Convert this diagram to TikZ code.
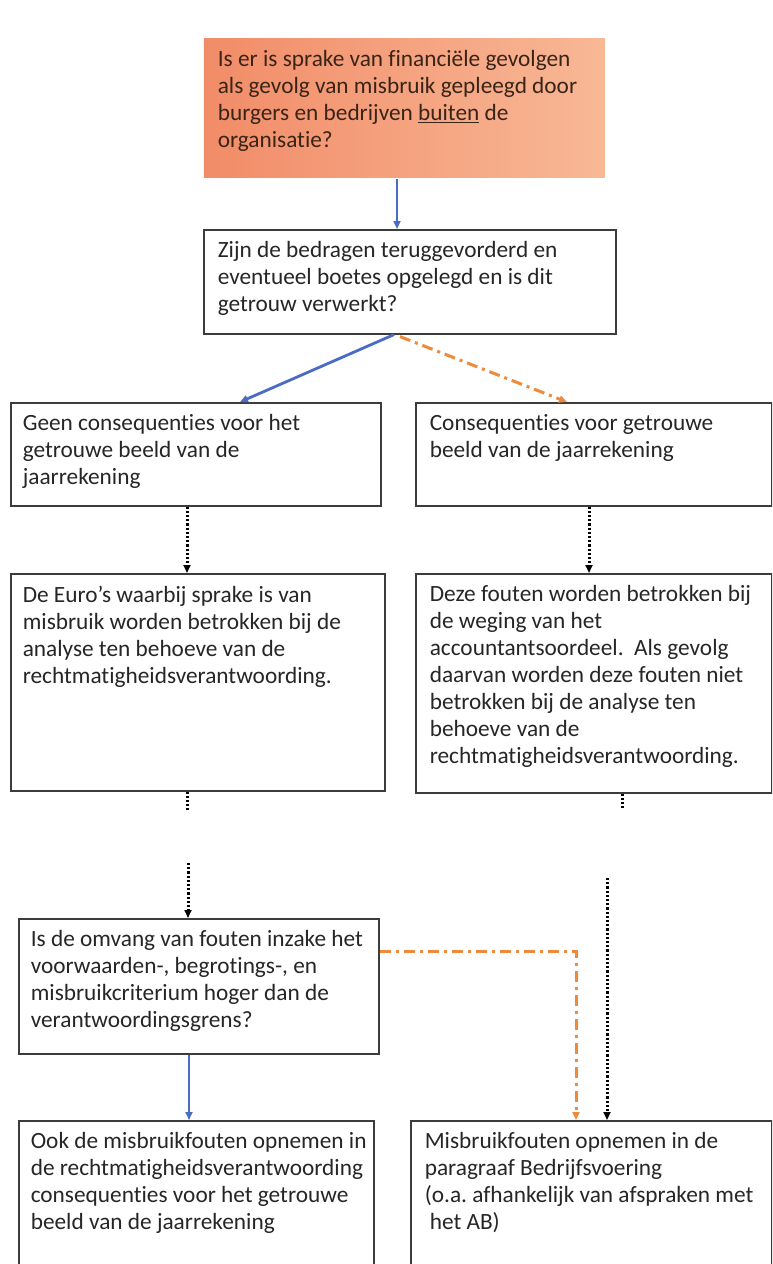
\documentclass[tikz,border=0pt]{standalone}
\usepackage{fontspec}
\setmainfont{Carlito}[Ligatures={NoCommon}]
\usetikzlibrary{arrows.meta,calc}
\frenchspacing
\definecolor{boxgray}{HTML}{3C3C3C}
\definecolor{txt}{HTML}{262626}
\definecolor{toptxt}{HTML}{3A2418}
\definecolor{salmonL}{HTML}{F28C68}
\definecolor{salmonR}{HTML}{F8B896}
\definecolor{arrblue}{HTML}{4A6CC4}
\definecolor{arrorange}{HTML}{EE8A3C}
\newcommand\bt[3]{\parbox[c][#2][t]{#1}{\rightskip=-60pt plus 1fil\relax\parindent=0pt\vspace*{12pt}#3}}
\begin{document}
\begin{tikzpicture}[x=1pt,y=-1pt,
  box/.style={draw=boxgray, line width=1.6pt, inner ysep=0pt, inner xsep=13pt, anchor=north west,
    font=\fontsize{23.3}{27}\selectfont, text=txt},
  bluearrow/.style={draw=arrblue, line width=2.8pt, -{Triangle[length=8pt,width=7pt]}},
  orangearrow/.style={draw=arrorange, line width=3pt, dash pattern={on 11pt off 5pt on 3pt off 5pt}, -{Triangle[length=8pt,width=7pt]}},
  dotline/.style={draw=black, line width=3pt, dash pattern={on 2.2pt off 2pt}},
  dotarrow/.style={dotline, -{Triangle[length=8pt,width=7pt]}}]
\useasboundingbox (0,0) rectangle (772,1264);
\clip (0,0) rectangle (772,1264);
\fill[white] (0,0) rectangle (772,1264);

% top box
\node[box, draw=none, left color=salmonL, right color=salmonR, text=toptxt, inner xsep=14pt] (q1) at (203,38)
  {\bt{373pt}{139pt}{Is er is sprake van financiële gevolgen\\als gevolg van misbruik gepleegd door\\burgers en bedrijven \underline{buiten} de\\organisatie?}};

\node[box, inner xsep=14pt] (q2) at (203,229)
  {\bt{384pt}{104pt}{Zijn de bedragen teruggevorderd en\\eventueel boetes opgelegd en is dit\\getrouw verwerkt?}};

\node[box, inner xsep=12pt] (a1) at (10,402)
  {\bt{346pt}{103pt}{Geen consequenties voor het\\getrouwe beeld van de\\jaarrekening}};

\node[box, inner xsep=14pt] (b1) at (415,402)
  {\bt{328pt}{103pt}{Consequenties voor getrouwe\\beeld van de jaarrekening}};

\node[box, inner xsep=12pt] (a2) at (10,573)
  {\bt{350pt}{217pt}{De Euro’s waarbij sprake is van\\misbruik worden betrokken bij de\\analyse ten behoeve van de\\rechtmatigheidsverantwoording.}};

\node[box, inner xsep=14pt] (b2) at (415,573)
  {\bt{328pt}{219pt}{Deze fouten worden betrokken bij\\de weging van het\\accountantsoordeel.\ \ Als gevolg\\daarvan worden deze fouten niet\\betrokken bij de analyse ten\\behoeve van de\\rechtmatigheidsverantwoording.}};

\node[box, inner xsep=12pt] (q3) at (18,918)
  {\bt{336pt}{135pt}{Is de omvang van fouten inzake het\\voorwaarden-, begrotings-, en\\misbruikcriterium hoger dan de\\verantwoordingsgrens?}};

\node[box, inner xsep=12pt] (a3) at (18,1120)
  {\bt{331pt}{170pt}{Ook de misbruikfouten opnemen in\\de rechtmatigheidsverantwoording\\consequenties voor het getrouwe\\beeld van de jaarrekening}};

\node[box, inner xsep=14pt] (b3) at (410,1120)
  {\bt{333pt}{170pt}{Misbruikfouten opnemen in de\\paragraaf Bedrijfsvoering\\(o.a. afhankelijk van afspraken met\\\hspace*{5pt}het AB)}};

% connectors
\draw[bluearrow] ($(q1.south west)+(194,0)$) -- ($(q2.north west)+(194,0)$);
\draw[bluearrow] ($(q2.south west)+(191,0)$) -- ($(a1.north west)+(230,0)$);
\draw[orangearrow] ($(q2.south west)+(197,2)$) -- ($(b1.north west)+(152,0)$);
\draw[dotarrow] ($(a1.south west)+(177,0)$) -- ($(a2.north west)+(177,0)$);
\draw[dotarrow] ($(b1.south west)+(174,0)$) -- ($(b2.north west)+(174,0)$);

\coordinate (s1) at (187,810);
\coordinate (s2) at (622,810);
\draw[dotline] ($(a2.south west)+(177,0)$) -- (s1);
\draw[dotline] ($(b2.south west)+(207,0)$) -- (s2);

\coordinate (c1) at (188,863);
\coordinate (c2) at (607,878);
\draw[dotarrow] (c1) -- ($(q3.north west)+(170,0)$);
\draw[dotarrow] (c2) -- ($(b3.north west)+(197,0)$);

\draw[bluearrow] ($(q3.south west)+(171,0)$) -- ($(a3.north west)+(171,0)$);
\draw[orangearrow] ($(q3.north east)+(0,33)$) -| ($(b3.north west)+(166,0)$);
\end{tikzpicture}
\end{document}
